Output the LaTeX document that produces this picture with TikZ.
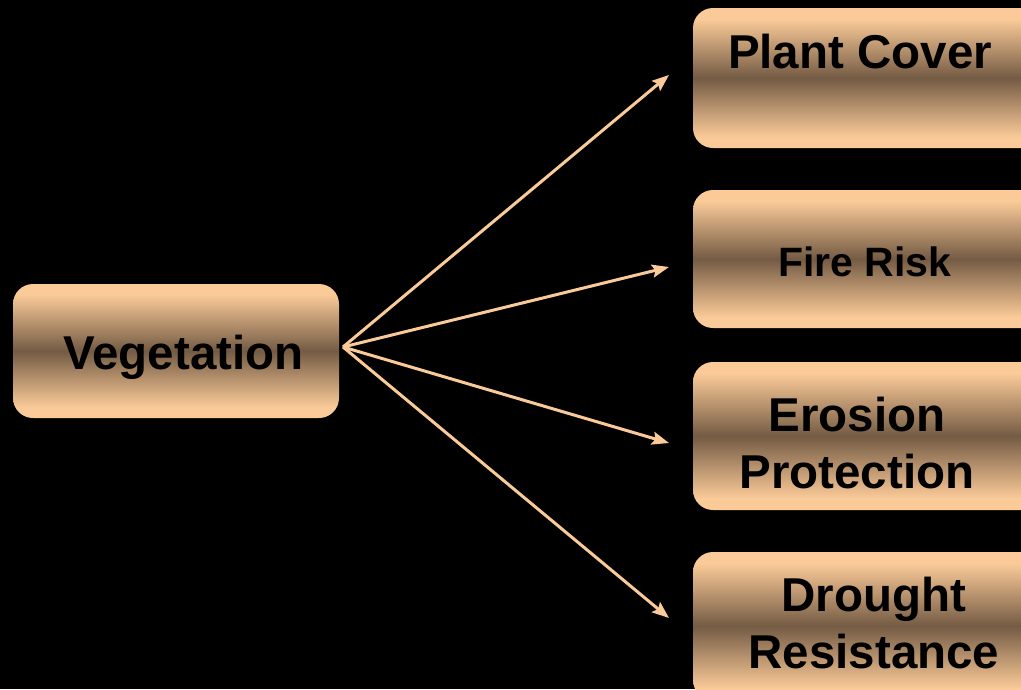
\documentclass[tikz,border=0pt]{standalone}
\usepackage{fontspec}
\setmainfont{Liberation Sans}
\usetikzlibrary{arrows.meta}
\definecolor{peach}{RGB}{250,202,152}
\definecolor{darkbrown}{RGB}{116,91,68}
\pgfdeclareverticalshading{boxshade}{100bp}{color(0bp)=(peach); color(25bp)=(peach); color(29bp)=(peach); color(50bp)=(darkbrown); color(71bp)=(peach); color(75bp)=(peach); color(100bp)=(peach)}
\begin{document}
\begin{tikzpicture}[x=1pt,y=-1pt,
  box/.style={rectangle, rounded corners=20pt, shading=boxshade, inner sep=0pt},
  lbl/.style={font=\bfseries\fontsize{47.5}{57}\selectfont, text=black, align=center, anchor=base, inner sep=0pt},
  conn/.style={draw=peach, line width=3pt, -{Stealth[length=17pt,width=13pt,inset=3pt]}}]
\fill[black] (0,0) rectangle (1021,689);
\clip (0,0) rectangle (1021,689);
% boxes
\node[box, minimum width=326pt, minimum height=134pt] (veg) at (176,351) {};
\node[box, minimum width=360pt, minimum height=140pt] (plant) at (873,78) {};
\node[box, minimum width=360pt, minimum height=138pt] (fire) at (873,259) {};
\node[box, minimum width=360pt, minimum height=148pt] (erosion) at (873,436) {};
\node[box, minimum width=360pt, minimum height=148pt] (drought) at (873,626) {};
% labels
\node[lbl] (tveg) at (183.5,369) {Vegetation};
\node[lbl] (tplant) at (860,68) {Plant Cover};
\node[lbl, font=\bfseries\fontsize{41}{49}\selectfont] (tfire) at (865,276) {Fire Risk};
\node[lbl] (terosion) at (857,488) {Erosion\\Protection};
\node[lbl] (tdrought) at (874,668) {Drought\\Resistance};
% connectors
\coordinate (s) at (343,347);
\coordinate (e1) at (669,75);
\coordinate (e2) at (669,267);
\coordinate (e3) at (669,443);
\coordinate (e4) at (669,618);
\draw[conn] (s) -- (e1);
\draw[conn] (s) -- (e2);
\draw[conn] (s) -- (e3);
\draw[conn] (s) -- (e4);
\end{tikzpicture}
\end{document}
